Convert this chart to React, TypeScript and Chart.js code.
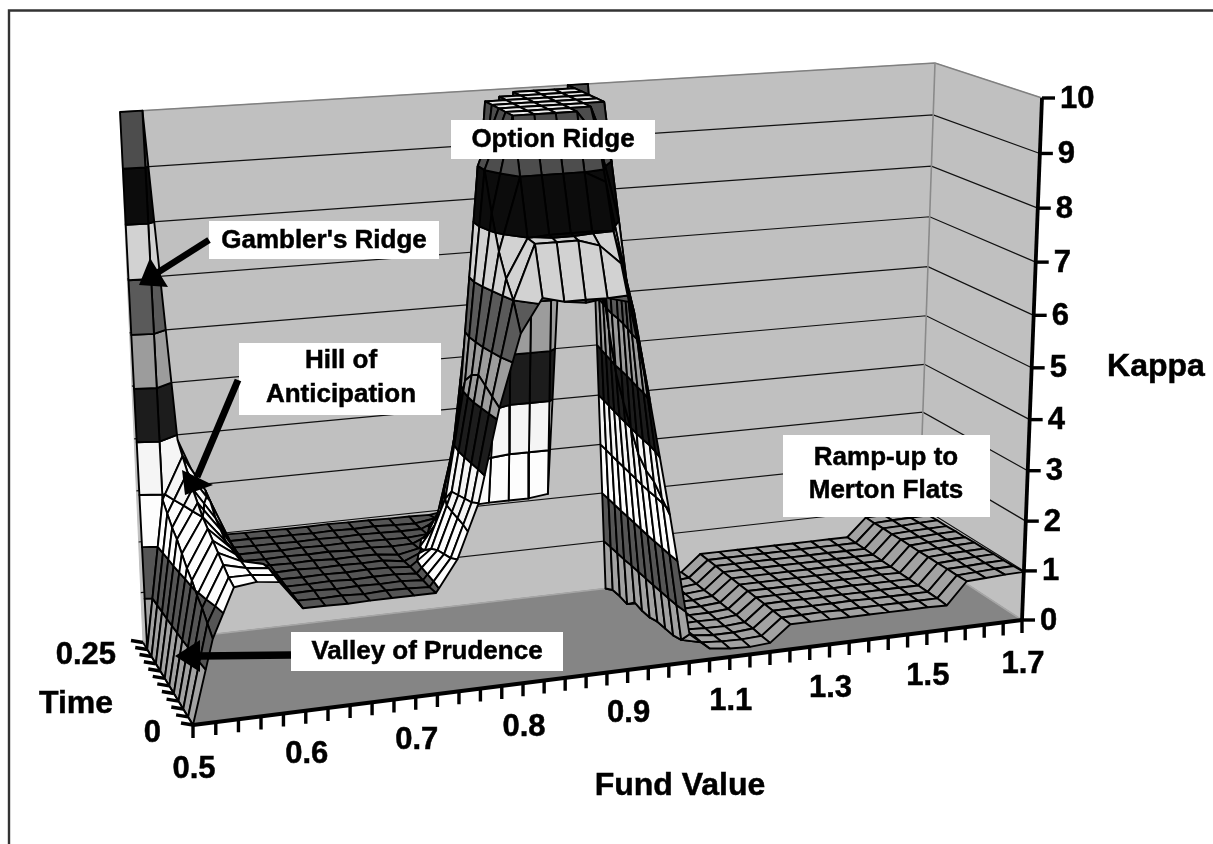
import React, { useEffect, useRef } from "react";
import { Chart, registerables } from "chart.js";

Chart.register(...registerables);

// ---- data ----
const fundValues = [0.5,0.52,0.54,0.56,0.58,0.6,0.62,0.64,0.66,0.68,0.7,0.72,0.74,0.76,0.78,0.8,0.82,0.84,0.86,0.88,0.9,0.94,0.98,1.02,1.06,1.1,1.14,1.18,1.22,1.26,1.3,1.34,1.38,1.42,1.46,1.5,1.54,1.58,1.62,1.66,1.7];
const timeValues = [0,0.023,0.045,0.068,0.091,0.114,0.136,0.159,0.182,0.205,0.227,0.25];
const fundTickLabels = ["0.5","0.6","0.7","0.8","0.9","1.1","1.3","1.5","1.7"];
const kappaTicks = [0,1,2,3,4,5,6,7,8,9,10];
const timeTickLabels = ["0","0.25"];

const kappaT00 = [0,1.55,2.45,2.5,2.45,1.92,1.92,1.91,1.92,1.92,1.92,1.92,2.5,3.5,5.2,6.5,7.1,7,6.95,7,6.9,5.1,2.9,0.55,0.22,0.17,0.15,0.18,0.5,0.5,0.5,0.5,0.5,0.5,0.5,0.5,0.49,0.93,0.95,0.97,0.98];
const kappaT01 = [0,1.7,2.5,2.5,2.45,1.93,1.92,1.93,1.91,1.93,1.92,1.9,2.4,3.4,5.3,7,7.97,7.97,7.97,7.85,7.5,5.8,3.1,0.3,0.2,0.17,0.16,0.18,0.5,0.5,0.51,0.5,0.5,0.5,0.5,0.5,0.5,0.92,0.94,0.96,0.97];
const kappaT02 = [0,1.85,2.6,2.5,2.45,1.93,1.94,1.92,1.93,1.92,1.93,1.9,2.35,3.35,5.4,7.3,7.99,8.02,8.02,8.02,8,6.5,3.3,0.25,0.2,0.16,0.16,0.19,0.5,0.5,0.5,0.5,0.51,0.5,0.5,0.5,0.5,0.92,0.93,0.95,0.96];
const kappaT03 = [0,1.95,2.7,2.5,2.4,1.93,1.93,1.94,1.92,1.93,1.93,1.9,2.3,3.3,5.5,7.7,9,9,9,9,8.8,7,3.4,0.25,0.18,0.16,0.15,0.18,0.5,0.51,0.5,0.5,0.5,0.5,0.5,0.5,0.5,0.91,0.93,0.95,0.96];
const kappaT04 = [0,2.1,2.8,2.5,2.05,1.94,1.93,1.94,1.93,1.94,1.93,1.9,2.2,3.25,5.4,8.3,10,10,10,10,9.5,8,3.6,0.25,0.15,0.16,0.15,0.19,0.5,0.5,0.5,0.5,0.5,0.51,0.5,0.5,0.5,0.91,0.93,0.94,0.95];
const kappaT05 = [0,2.2,2.9,2.5,1.97,1.94,1.95,1.93,1.94,1.93,1.94,1.88,2.05,3,5.2,9,10,10,10,10,10,9,4,0.2,0.12,0.15,0.15,0.18,0.5,0.5,0.5,0.5,0.5,0.5,0.5,0.51,0.5,0.9,0.92,0.94,0.95];
const kappaT06 = [0,2.35,3,2.5,1.95,1.95,1.94,1.95,1.93,1.94,1.93,1.88,1.96,2.5,4.5,9,10,10,10,10,10,10,4.4,0.2,0.1,0.14,0.15,0.18,0.5,0.5,0.5,0.5,0.5,0.5,0.5,0.5,0.5,0.9,0.92,0.93,0.94];
const kappaT07 = [0,2.5,3.15,2.6,1.95,1.94,1.95,1.94,1.95,1.93,1.94,1.92,1.93,2.1,3.7,7,10,10,10,10,10,10,4.85,0.24,0.08,0.14,0.14,0.18,0.5,0.5,0.5,0.5,0.5,0.5,0.5,0.5,0.5,0.9,0.91,0.93,0.94];
const kappaT08 = [0,2.6,3.3,2.7,1.95,1.95,1.94,1.95,1.94,1.95,1.94,1.93,1.92,1.95,2.7,5.2,10,10,10,10,10,10,5.6,0.07,0.06,0.13,0.14,0.17,0.5,0.5,0.5,0.5,0.5,0.5,0.5,0.5,0.5,0.89,0.91,0.92,0.93];
const kappaT09 = [0,2.75,3.5,2.9,1.96,1.95,1.95,1.94,1.95,1.94,1.95,1.94,1.93,1.93,2.1,3.1,5.2,10,10,10,10,10,6.5,0.1,0.05,0.12,0.13,0.17,0.5,0.5,0.5,0.5,0.5,0.5,0.5,0.5,0.5,0.89,0.9,0.92,0.93];
const kappaT10 = [0,2.9,3.7,3,1.96,1.96,1.95,1.95,1.94,1.95,1.94,1.95,1.93,1.92,1.98,2.5,3,4.5,10,10,10,10,7.9,0.1,0.03,0.12,0.13,0.17,0.5,0.5,0.5,0.5,0.5,0.5,0.5,0.5,0.5,0.88,0.9,0.91,0.92];
const kappaT11 = [10,10,3.9,2.9,1.97,1.96,1.96,1.95,1.95,1.96,1.95,1.95,1.94,1.94,1.93,1.98,2.03,2.05,2.05,2.05,2.1,10,10,0,0.02,0.12,0.12,0.16,0.5,0.5,0.5,0.5,0.5,0.5,0.5,0.5,0.5,0.88,0.89,0.9,0.91];
const kappaRows = [kappaT00,kappaT01,kappaT02,kappaT03,kappaT04,kappaT05,kappaT06,kappaT07,kappaT08,kappaT09,kappaT10,kappaT11];

const bandColors = ["#a2a2a2","#555555","#fdfdfd","#f5f5f5","#1c1c1c","#9c9c9c","#5a5a5a","#d2d2d2","#0c0c0c","#4d4d4d"];
const plateauColor = "#ececec";

// ---- 3D box projection (the picture's camera) ----
type P = { x: number; y: number };
type Q = number[][];
const floorQuad: Q = [[193,725],[1022,620],[918,552],[143,642.5]];
const roofQuad: Q = [[171,155],[1042,98],[935,63],[120,112]];
const KMAX = 10;

function homography(q: Q) {
  const [[x0,y0],[x1,y1],[x2,y2],[x3,y3]] = q;
  const dx1 = x1-x2, dx2 = x3-x2, sx = x0-x1+x2-x3;
  const dy1 = y1-y2, dy2 = y3-y2, sy = y0-y1+y2-y3;
  const det = dx1*dy2-dx2*dy1;
  const g = (sx*dy2-dx2*sy)/det, h = (dx1*sy-sx*dy1)/det;
  const a = x1-x0+g*x1, b = x3-x0+h*x3, d = y1-y0+g*y1, e = y3-y0+h*y3;
  return (u: number, v: number): P => {
    const w = g*u+h*v+1;
    return { x: (a*u+b*v+x0)/w, y: (d*u+e*v+y0)/w };
  };
}
const floorAt = homography(floorQuad);
const roofAt = homography(roofQuad);
function project(u: number, v: number, kappa: number): P {
  const f = floorAt(u,v), r = roofAt(u,v);
  const k = kappa/KMAX;
  const t = k/(k+1.07*(1-k));
  return { x: f.x+t*(r.x-f.x), y: f.y+t*(r.y-f.y) };
}

// ---- helpers that build Chart.js datasets ----
const polys: any[] = [];
function shape(points: P[], fill: string, stroke: string, width: number) {
  polys.push({
    data: [...points, points[0]], showLine: true, fill: "shape", backgroundColor: fill,
    borderColor: stroke, borderWidth: width, pointRadius: 0, borderJoinStyle: "round", tension: 0,
  });
}
function line(points: P[], stroke: string, width: number) {
  polys.push({
    data: points, showLine: true, fill: false, backgroundColor: stroke,
    borderColor: stroke, borderWidth: width, pointRadius: 0, tension: 0, borderCapStyle: "butt",
  });
}

type V3 = [number, number, number];
function clipBand(poly: V3[], limit: number, keepAbove: boolean): V3[] {
  const out: V3[] = [];
  const inside = (p: V3) => keepAbove ? p[2] >= limit : p[2] <= limit;
  for (let n = 0; n < poly.length; n++) {
    const a = poly[n], b = poly[(n+1)%poly.length];
    const ia = inside(a), ib = inside(b);
    if (ia) out.push(a);
    if (ia !== ib) {
      const s = (limit-a[2])/(b[2]-a[2]);
      out.push([a[0]+s*(b[0]-a[0]), a[1]+s*(b[1]-a[1]), limit]);
    }
  }
  return out;
}
function areaOf(p: P[]) {
  let s = 0;
  for (let n = 0; n < p.length; n++) {
    const a = p[n], b = p[(n+1)%p.length];
    s += a.x*b.y-b.x*a.y;
  }
  return Math.abs(s/2);
}

function buildDatasets() {
  polys.length = 0;
  const U = fundValues.length-1, V = timeValues.length-1;
  const proj = (p: V3) => project(p[0],p[1],p[2]);

  // walls and floor
  shape([project(0,1,0),project(1,1,0),project(1,1,KMAX),project(0,1,KMAX)],"#c0c0c0","#c0c0c0",1);
  shape([project(1,1,0),project(1,0,0),project(1,0,KMAX),project(1,1,KMAX)],"#c0c0c0","#c0c0c0",1);
  shape([project(0,0,0),project(1,0,0),project(1,1,0),project(0,1,0)],"#858585","#858585",1);
  line([project(0,1,0),project(1,1,0),project(1,0,0)],"#a6a6a6",1.5);
  for (const k of kappaTicks) {
    if (k === 0 || k === KMAX) continue;
    line([project(0,1,k),project(1,1,k),project(1,0,k)],"#111111",1.2);
  }
  line([project(0,1,KMAX),project(1,1,KMAX),project(1,0,KMAX)],"#808080",1.6);
  line([project(1,1,0),project(1,1,KMAX)],"#8a8a8a",1.6);

  // surface: far cells first
  for (let j = V-1; j >= 0; j--) {
    for (let i = U-1; i >= 0; i--) {
      const cell: V3[] = [
        [i/U,j/V,kappaRows[j][i]],
        [(i+1)/U,j/V,kappaRows[j][i+1]],
        [(i+1)/U,(j+1)/V,kappaRows[j+1][i+1]],
        [i/U,(j+1)/V,kappaRows[j+1][i]],
      ];
      if (cell.every((c) => c[2] >= KMAX)) {
        shape(cell.map(proj),plateauColor,"#000",2);
        continue;
      }
      for (let b = 0; b < KMAX; b++) {
        let part = clipBand(cell,b,true);
        if (part.length) part = clipBand(part,b+1,false);
        if (part.length < 3) continue;
        const pts = part.map(proj);
        if (areaOf(pts) < 0.05) continue;
        shape(pts,bandColors[b],"#000",1.9);
      }
    }
  }

  // axes
  line([project(0,0,0),project(1,0,0)],"#000",4.2);
  line([project(1,0,0),project(1,0,KMAX)],"#000",3.8);
  line([project(0,1,0),project(0,0,0)],"#000",1.8);
  for (let i = 0; i <= U; i++) {
    const p = project(i/U,0,0);
    line([p,{x:p.x,y:p.y+13}],"#000",3.4);
  }
  for (let j = 0; j <= V; j++) {
    const p = project(0,j/V,0);
    line([p,{x:p.x-12,y:p.y-2}],"#000",3.4);
  }
  for (const k of kappaTicks) {
    const p = project(1,0,k);
    line([p,{x:p.x+13,y:p.y}],"#000",3.4);
  }
  return polys.map((d,n) => ({ ...d, order: polys.length-n }));
}

// ---- text and call-outs ----
const FONT = '"Liberation Sans", Arial, sans-serif';
const callouts = [
  { box:[209,221,230,38], lines:["Gambler's Ridge"], cx:324, ys:[240] },
  { box:[239,343,202,72], lines:["Hill of","Anticipation"], cx:341, ys:[360,394] },
  { box:[451,120,204,39], lines:["Option Ridge"], cx:553, ys:[139] },
  { box:[291,632,272,39], lines:["Valley of Prudence"], cx:427, ys:[651] },
  { box:[783,435,207,82], lines:["Ramp-up to","Merton Flats"], cx:886, ys:[457,490] },
];
const arrows = [
  { tail:[209,240], neck:[157,273], head:[[139,285],[150,258],[168,287]], w:6.5 },
  { tail:[238,380], neck:[197,477], head:[[185,495],[182,470],[213,485]], w:7 },
  { tail:[291,655], neck:[200,656], head:[[175,656],[200,640],[200,672]], w:7.5 },
];

const overlay = {
  id: "overlay",
  afterDraw(chart: any) {
    const c = chart.ctx as CanvasRenderingContext2D;
    c.save();
    // frame
    c.strokeStyle = "#333"; c.lineWidth = 2.4;
    c.beginPath(); c.moveTo(9,844); c.lineTo(9,10.5); c.lineTo(1213,10.5); c.stroke();

    const put = (t: string, x: number, y: number) => {
      c.fillText(t,x,y);
      c.strokeText(t,x,y);
    };
    c.fillStyle = "#000";
    c.strokeStyle = "#000";
    c.lineWidth = 0.5;
    c.textBaseline = "middle";
    // tick labels
    c.font = `bold 31px ${FONT}`;
    c.textAlign = "center";
    fundTickLabels.forEach((t,n) => {
      const p = project(n*5/(fundValues.length-1),0,0);
      put(t,p.x+1,p.y+44);
    });
    c.textAlign = "left";
    kappaTicks.forEach((k) => {
      const p = project(1,0,k);
      put(String(k),p.x+18,p.y+1);
    });
    c.textAlign = "right";
    const t0 = project(0,0,0), t1 = project(0,1,0);
    put(timeTickLabels[0],t0.x-32,t0.y+8);
    put(timeTickLabels[1],t1.x-27,t1.y+13);
    // axis titles
    c.font = `bold 32px ${FONT}`;
    c.textAlign = "center";
    put("Fund Value",680,786);
    put("Kappa",1156,367);
    put("Time",76,704);
    // call-outs
    c.font = `bold 26px ${FONT}`;
    for (const a of callouts) {
      c.fillStyle = "#fff";
      c.fillRect(a.box[0],a.box[1],a.box[2],a.box[3]);
      c.fillStyle = "#000";
      a.lines.forEach((l,n) => put(l,a.cx,a.ys[n]+1));
    }
    for (const a of arrows) {
      c.strokeStyle = "#000"; c.lineWidth = a.w;
      c.beginPath(); c.moveTo(a.tail[0],a.tail[1]); c.lineTo(a.neck[0],a.neck[1]); c.stroke();
      c.beginPath();
      c.moveTo(a.head[0][0],a.head[0][1]); c.lineTo(a.head[1][0],a.head[1][1]); c.lineTo(a.head[2][0],a.head[2][1]);
      c.closePath(); c.fill();
    }
    c.restore();
  },
};

export default function App() {
  const ref = useRef<HTMLCanvasElement>(null);
  useEffect(() => {
    const chart = new Chart(ref.current as HTMLCanvasElement, {
      type: "scatter",
      data: { datasets: buildDatasets() as any },
      options: {
        animation: false,
        responsive: false,
        events: [],
        layout: { padding: 0 },
        plugins: { legend: { display: false }, tooltip: { enabled: false } },
        scales: {
          x: { type: "linear", min: 0, max: 1213, display: false },
          y: { type: "linear", min: 0, max: 844, reverse: true, display: false },
        },
      },
      plugins: [overlay],
    } as any);
    return () => chart.destroy();
  }, []);
  return (
    <div style={{ position: "absolute", left: 0, top: 0, width: 1213, height: 844, background: "#fff" }}>
      <canvas ref={ref} width={1213} height={844} style={{ display: "block" }} />
    </div>
  );
}
